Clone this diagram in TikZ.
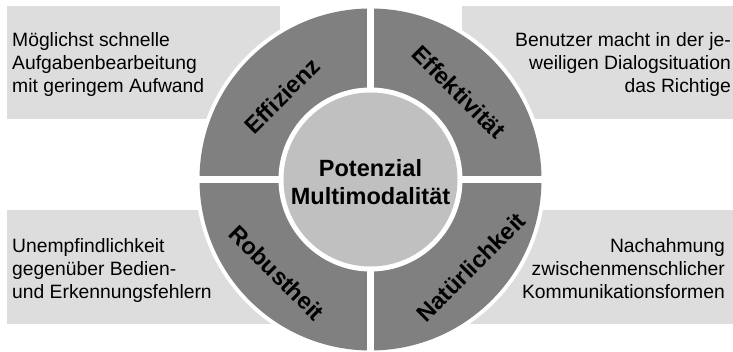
\documentclass[tikz,border=0pt]{standalone}
\usepackage{fontspec}
\setmainfont{Liberation Sans}
\definecolor{ringgray}{HTML}{808080}
\definecolor{coregray}{HTML}{C0C0C0}
\definecolor{boxgray}{HTML}{DDDDDD}
\begin{document}
\begin{tikzpicture}[x=1pt,y=-1pt,
  infobox/.style={fill=boxgray,draw=none},
  infotext/.style={inner sep=0pt,font=\fontsize{19.3}{23.2}\selectfont},
  ringlabel/.style={inner sep=0pt,font=\fontsize{23.5}{28}\selectfont\bfseries},
  gapline/.style={white,line width=7.5pt},
]
\useasboundingbox (0,0) rectangle (733,352);
\coordinate (c) at (370.5,179.5);

% background boxes
\fill[infobox] (7,6) rectangle (280,119);
\fill[infobox] (462,6) rectangle (733,119);
\fill[infobox] (7,210) rectangle (280,324);
\fill[infobox] (462,210) rectangle (733,324);

% ring with four quadrants
\fill[white] (c) circle[radius=175];
\fill[ringgray] (c) circle[radius=171];
\draw[gapline] ([xshift=-176pt]c) -- ([xshift=176pt]c);
\draw[gapline] ([yshift=176pt]c) -- ([yshift=-176pt]c);
\fill[white] (c) circle[radius=92];
\fill[coregray] (c) circle[radius=87];

% centre
\node[ringlabel,align=center] (core) at (370.5,182.5) {Potenzial\\Multimodalität};

% quadrant labels
\node[ringlabel,rotate=45] (eff) at (282,96) {Effizienz};
\node[ringlabel,rotate=-45] (effk) at (459,92) {Effektivität};
\node[ringlabel,rotate=-45] (rob) at (277,273) {Robustheit};
\node[ringlabel,rotate=45] (nat) at (471,267) {Natürlichkeit};

% descriptions
\node[infotext,align=left,anchor=base west] (teff) at (12,93)
  {Möglichst schnelle\\Aufgabenbearbeitung\\mit geringem Aufwand};
\node[infotext,align=right,anchor=base east] (teffk) at (731,93)
  {Benutzer macht in der je-\\weiligen Dialogsituation\\das Richtige};
\node[infotext,align=left,anchor=base west] (trob) at (12,299)
  {Unempfindlichkeit\\gegenüber Bedien-\\und Erkennungsfehlern};
\node[infotext,align=right,anchor=base east] (tnat) at (725,299)
  {Nachahmung\\zwischenmenschlicher\\Kommunikationsformen};
\end{tikzpicture}
\end{document}
